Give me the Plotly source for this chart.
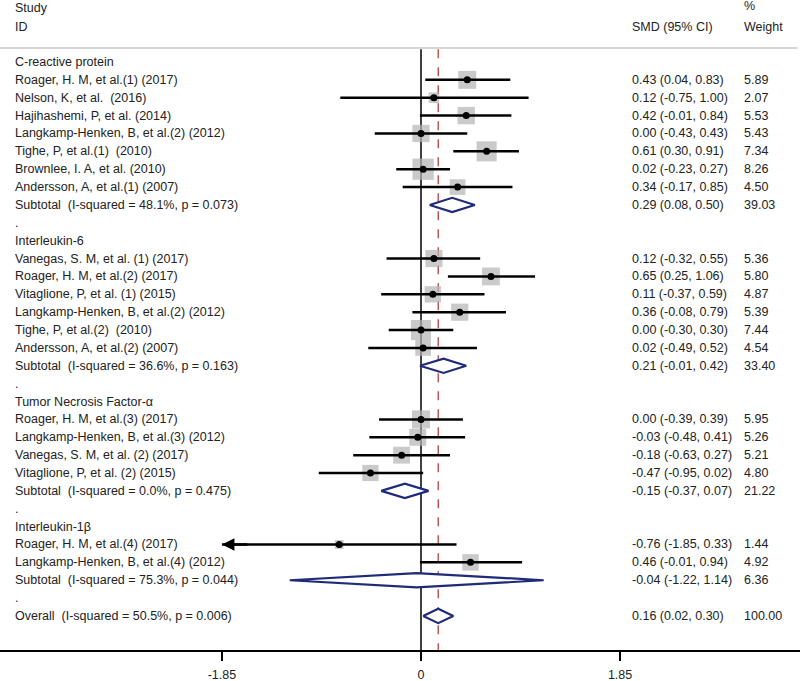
import plotly.graph_objects as go

# ---------------- data ----------------
group_names = ["C-reactive protein", "Interleukin-6", "Tumor Necrosis Factor-α", "Interleukin-1β"]

study_ids = [
    "Roager, H. M, et al.(1) (2017)", "Nelson, K, et al.  (2016)", "Hajihashemi, P, et al. (2014)",
    "Langkamp-Henken, B, et al.(2) (2012)", "Tighe, P, et al.(1)  (2010)", "Brownlee, I. A, et al. (2010)",
    "Andersson, A, et al.(1) (2007)",
    "Vanegas, S. M, et al. (1) (2017)", "Roager, H. M, et al.(2) (2017)", "Vitaglione, P, et al. (1) (2015)",
    "Langkamp-Henken, B, et al.(2) (2012)", "Tighe, P, et al.(2)  (2010)", "Andersson, A, et al.(2) (2007)",
    "Roager, H. M, et al.(3) (2017)", "Langkamp-Henken, B, et al.(3) (2012)", "Vanegas, S. M, et al. (2) (2017)",
    "Vitaglione, P, et al. (2) (2015)",
    "Roager, H. M, et al.(4) (2017)", "Langkamp-Henken, B, et al.(4) (2012)",
]
study_group = [0]*7 + [1]*6 + [2]*4 + [3]*2
smd = [0.43, 0.12, 0.42, 0.00, 0.61, 0.02, 0.34,
       0.12, 0.65, 0.11, 0.36, 0.00, 0.02,
       0.00, -0.03, -0.18, -0.47,
       -0.76, 0.46]
ci_lo = [0.04, -0.75, -0.01, -0.43, 0.30, -0.23, -0.17,
         -0.32, 0.25, -0.37, -0.08, -0.30, -0.49,
         -0.39, -0.48, -0.63, -0.95,
         -1.85, -0.01]
ci_hi = [0.83, 1.00, 0.84, 0.43, 0.91, 0.27, 0.85,
         0.55, 1.06, 0.59, 0.79, 0.30, 0.52,
         0.39, 0.41, 0.27, 0.02,
         0.33, 0.94]
weight = [5.89, 2.07, 5.53, 5.43, 7.34, 8.26, 4.50,
          5.36, 5.80, 4.87, 5.39, 7.44, 4.54,
          5.95, 5.26, 5.21, 4.80,
          1.44, 4.92]

sub_labels = ["Subtotal  (I-squared = 48.1%, p = 0.073)", "Subtotal  (I-squared = 36.6%, p = 0.163)",
              "Subtotal  (I-squared = 0.0%, p = 0.475)", "Subtotal  (I-squared = 75.3%, p = 0.044)"]
sub_smd = [0.29, 0.21, -0.15, -0.04]
sub_lo = [0.08, -0.01, -0.37, -1.22]
sub_hi = [0.50, 0.42, 0.07, 1.14]
sub_w = [39.03, 33.40, 21.22, 6.36]

overall_label = "Overall  (I-squared = 50.5%, p = 0.006)"
overall_smd, overall_lo, overall_hi, overall_w = 0.16, 0.02, 0.30, 100.00

x_ticks = [-1.85, 0, 1.85]
x_tick_labels = ["-1.85", "0", "1.85"]
x_min = -1.85

# ---------------- layout of rows ----------------
FONT = "Liberation Sans, Arial, sans-serif"
FS = 12.5
TXT = "#222222"
rows = []  # (kind, label, est, lo, hi, w)
for g, gname in enumerate(group_names):
    rows.append(("group", gname, None, None, None, None))
    for i, sid in enumerate(study_ids):
        if study_group[i] == g:
            rows.append(("study", sid, smd[i], ci_lo[i], ci_hi[i], weight[i]))
    rows.append(("sub", sub_labels[g], sub_smd[g], sub_lo[g], sub_hi[g], sub_w[g]))
    rows.append(("dot", ".", None, None, None, None))
rows.append(("sub", overall_label, overall_smd, overall_lo, overall_hi, overall_w))

fig = go.Figure()
annotations = []
shapes = []

X_LABEL = 13 / 800
X_EST = 630 / 800
X_W = 742 / 800
tfont = dict(size=FS, color=TXT, family=FONT)

ci_x, ci_y = [], []
box_x, box_y, box_s = [], [], []
dot_x, dot_y = [], []
for r, (kind, label, est, lo, hi, w) in enumerate(rows):
    annotations.append(dict(x=X_LABEL, y=r, xref="paper", yref="y", text=label, showarrow=False,
                            xanchor="left", yanchor="middle", font=tfont))
    if kind in ("study", "sub"):
        annotations.append(dict(x=X_EST, y=r, xref="paper", yref="y",
                                text=f"{est:.2f} ({lo:.2f}, {hi:.2f})", showarrow=False,
                                xanchor="left", yanchor="middle", font=tfont))
        annotations.append(dict(x=X_W, y=r, xref="paper", yref="y", text=f"{w:.2f}", showarrow=False,
                                xanchor="left", yanchor="middle", font=tfont))
    if kind == "study":
        box_x.append(est); box_y.append(r); box_s.append(7.4 * w ** 0.5)
        dot_x.append(est); dot_y.append(r)
        ci_x += [lo, hi, None]; ci_y += [r, r, None]
        if lo <= x_min:
            annotations.append(dict(x=lo, y=r, ax=lo + 0.25, ay=r, xref="x", yref="y", axref="x", ayref="y",
                                    text="", showarrow=True, arrowhead=2, arrowsize=1, arrowwidth=2.5,
                                    arrowcolor="black"))
    if kind == "sub":
        h = 0.4
        fig.add_trace(go.Scatter(x=[lo, est, hi, est, lo], y=[r, r - h, r, r + h, r], mode="lines",
                                 fill="toself", fillcolor="white",
                                 line=dict(color="#1f2a78", width=2.2), hoverinfo="skip", showlegend=False))

n = len(rows)
shapes.append(dict(type="line", x0=0, x1=0, y0=-0.72, y1=n + 2, xref="x", yref="y",
                   line=dict(color="black", width=1.5), layer="below"))
shapes.append(dict(type="line", x0=overall_smd, x1=overall_smd, y0=-0.72, y1=n + 2, xref="x", yref="y",
                   line=dict(color="#b03030", width=1.2, dash="dash"), layer="below"))
shapes.append(dict(type="line", x0=0, x1=0.997, y0=-0.78, y1=-0.78, xref="paper", yref="y",
                   line=dict(color="#c8c8c8", width=1.5)))

fig.add_trace(go.Scatter(x=box_x, y=box_y, mode="markers",
                         marker=dict(symbol="square", size=box_s, color="#b4b4b4", line=dict(width=0)),
                         hoverinfo="skip", showlegend=False))
fig.add_trace(go.Scatter(x=ci_x, y=ci_y, mode="lines", line=dict(color="black", width=2.5),
                         hoverinfo="skip", showlegend=False))
fig.add_trace(go.Scatter(x=dot_x, y=dot_y, mode="markers",
                         marker=dict(symbol="circle", size=7, color="black"),
                         hoverinfo="skip", showlegend=False))

hdr = dict(xref="paper", yref="y", showarrow=False, xanchor="left", yanchor="middle", font=tfont)
annotations += [
    dict(x=X_LABEL, y=-3.02, text="Study", **hdr),
    dict(x=X_LABEL, y=-1.95, text="ID", **hdr),
    dict(x=X_EST, y=-1.95, text="SMD (95% CI)", **hdr),
    dict(x=X_W, y=-3.12, text="%", **hdr),
    dict(x=X_W, y=-1.95, text="Weight", **hdr),
]

px_per_row = 17.87
y_top = -62 / px_per_row
y_bot = (650 - 62) / px_per_row
ppu = 107.6
fig.update_layout(
    width=800, height=681,
    margin=dict(l=0, r=0, t=0, b=31, autoexpand=False),
    plot_bgcolor="white", paper_bgcolor="white",
    annotations=annotations,
    xaxis=dict(range=[-421 / ppu, (800 - 421) / ppu], tickvals=x_ticks, ticktext=x_tick_labels,
               showgrid=False, zeroline=False, showline=True, linecolor="black", linewidth=1.5,
               ticks="outside", ticklen=9, tickwidth=1.5, tickcolor="black", ticklabelstandoff=3,
               tickfont=dict(size=FS, color=TXT, family=FONT), fixedrange=True),
    yaxis=dict(range=[y_bot, y_top], visible=False, fixedrange=True),
    showlegend=False,
)
fig.layout.shapes = tuple(shapes)
fig.write_html("out.html", config={"displayModeBar": False},
               post_script="document.body.style.margin='0';document.body.style.overflow='hidden';")
